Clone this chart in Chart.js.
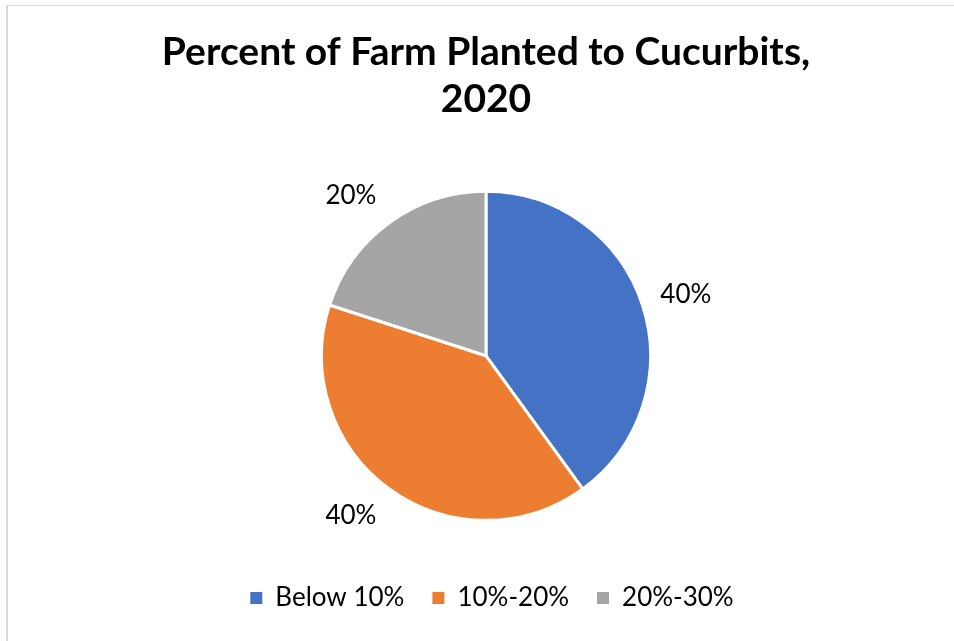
<!DOCTYPE html>
<html>
<head>
<meta charset="utf-8">
<script src="https://cdn.jsdelivr.net/npm/chart.js@4"></script>
<style>
  html, body { margin: 0; padding: 0; background: #fff; }
  #wrap { position: relative; width: 954px; height: 641px; overflow: hidden; }
  #frame { position: absolute; left: 6px; top: 5px; width: 1000px; height: 700px;
           border-left: 2px solid #d9d9d9; border-top: 1px solid #d9d9d9; }
  canvas { position: absolute; left: 0; top: 0; }
</style>
</head>
<body>
<div id="wrap">
  <div id="frame"></div>
  <canvas id="farmPie" width="954" height="641"></canvas>
</div>
<script>
var categories = ["Below 10%", "10%-20%", "20%-30%"];
var shares = [40, 40, 20];
var sliceColors = ["#4472C4", "#ED7D31", "#A5A5A5"];
var titleLines = ["Percent of Farm Planted to Cucurbits,", "2020"];

var FONT = "Lato, 'Liberation Sans', sans-serif";

// percent labels outside each slice; the text box sits beside the point on the
// slice's middle ray, pushed left or right by half its width
var outsideLabels = {
    id: "outsideLabels",
    afterDatasetsDraw: function (chart) {
        var ctx = chart.ctx;
        var arcs = chart.getDatasetMeta(0).data;
        ctx.save();
        ctx.font = "26px " + FONT;
        ctx.fillStyle = "#000";
        ctx.textAlign = "center";
        ctx.textBaseline = "middle";
        arcs.forEach(function (arc, i) {
            var p = arc.getProps(["x", "y", "startAngle", "endAngle", "outerRadius"], true);
            var mid = (p.startAngle + p.endAngle) / 2;
            var text = shares[i] + "%";
            var halfW = ctx.measureText(text).width / 2;
            var d = p.outerRadius + 22;
            var cos = Math.cos(mid), sin = Math.sin(mid);
            var x = p.x + cos * d + (cos >= 0 ? halfW - 3 : -halfW);
            var y = p.y + sin * (d + 11);
            ctx.fillText(text, x, y);
        });
        ctx.restore();
    }
};

// nudge the legend row a little right of the pie's centre line
var legendNudge = {
    id: "legendNudge",
    afterLayout: function (chart) {
        chart.legend.left += 6;
        chart.legend.right += 6;
    }
};

// legend squares without the white slice outline
function legendItems(chart) {
    var items = Chart.overrides.pie.plugins.legend.labels.generateLabels(chart);
    items.forEach(function (item) { item.lineWidth = 0; });
    return items;
}

new Chart("farmPie", {
    type: "pie",
    data: {
        labels: categories,
        datasets: [{
            data: shares,
            backgroundColor: sliceColors,
            borderColor: "#fff",
            borderWidth: 3,
            radius: 164.5
        }]
    },
    options: {
        responsive: false,
        animation: false,
        layout: { padding: { left: 18, right: 0, top: 0, bottom: 20 } },
        plugins: {
            title: {
                display: true,
                text: titleLines,
                color: "#000",
                font: { family: FONT, size: 39, weight: "bold", lineHeight: 1.2 },
                padding: { top: 29, bottom: 32 }
            },
            legend: {
                position: "bottom",
                labels: {
                    color: "#000",
                    font: { family: FONT, size: 26 },
                    boxWidth: 12,
                    boxHeight: 12,
                    padding: 28,
                    generateLabels: legendItems
                }
            },
            tooltip: { enabled: false }
        }
    },
    plugins: [outsideLabels, legendNudge]
});
</script>
</body>
</html>
